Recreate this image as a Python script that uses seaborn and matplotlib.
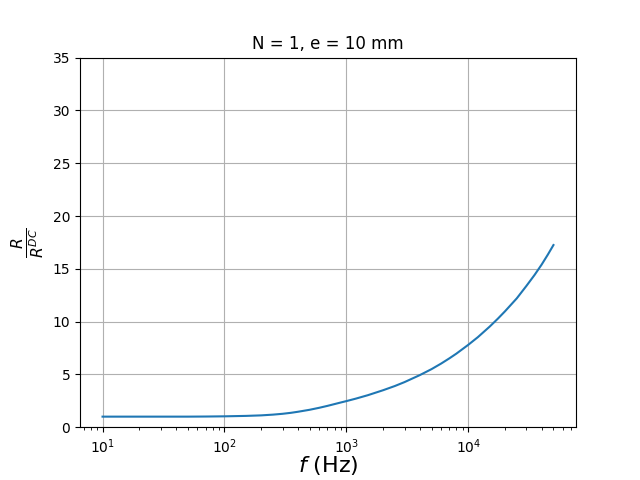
import matplotlib
matplotlib.use("Agg")
import matplotlib.pyplot as plt
import seaborn as sns
import pandas as pd

freq_hz = [10, 20, 50, 70, 100, 150, 200, 250, 300, 350, 400, 500, 600, 700, 800, 900,
           1000, 1200, 1500, 2000, 2500, 3000, 4000, 5000, 6000, 7000, 8000, 10000,
           12000, 15000, 17500, 20000, 25000, 30000, 35000, 40000, 45000, 50000]
r_ratio = [1.0, 1.0, 1.0, 1.01, 1.03, 1.07, 1.12, 1.19, 1.27, 1.36, 1.46, 1.65, 1.84, 2.02,
           2.19, 2.34, 2.47, 2.71, 3.03, 3.5, 3.9, 4.27, 4.93, 5.5, 6.03, 6.52, 6.97, 7.8,
           8.53, 9.53, 10.28, 10.97, 12.2, 13.38, 14.42, 15.4, 16.35, 17.25]

title_text = "N = 1, e = 10 mm"
x_label = r"$f$ (Hz)"
y_label = r"$\frac{R}{R^{DC}}$"

df = pd.DataFrame({"f": freq_hz, "r": r_ratio})

fig, ax = plt.subplots(figsize=(6.4, 4.8), dpi=100)
sns.lineplot(data=df, x="f", y="r", ax=ax, color="#1f77b4", linewidth=1.5)
ax.set_xscale("log")
ax.set_ylim(0, 35)
ax.grid(True, which="major")
ax.set_title(title_text)
ax.set_xlabel(x_label, fontsize=16, labelpad=-1)
ax.set_ylabel(y_label, fontsize=16)
fig.savefig("out.png", dpi=100)
